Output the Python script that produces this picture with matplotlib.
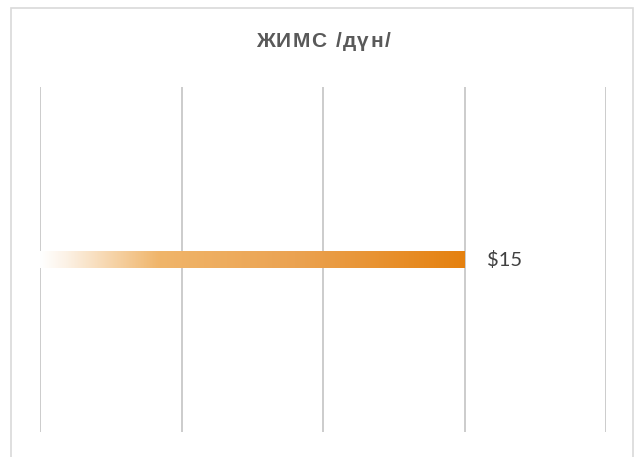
import numpy as np
import matplotlib
matplotlib.use("Agg")
import matplotlib.pyplot as plt
from matplotlib.colors import LinearSegmentedColormap
from matplotlib.patches import Rectangle

# Data
categories = ["ЖИМС"]
values = [15]
value_labels = ["$15"]
x_ticks = [0, 5, 10, 15, 20]
title = "ЖИМС /дүн/"

W, H = 635, 457
fig = plt.figure(figsize=(W / 100, H / 100), dpi=100)
fig.patch.set_facecolor("white")

# Outer chart border
fig.add_artist(Rectangle((10.5 / W, -0.05), (632.5 - 10.5) / W, 1.05 - 7.5 / H,
                         transform=fig.transFigure, fill=False,
                         edgecolor="#D9D9D9", linewidth=1.2))

ax = fig.add_axes([40 / W, 1 - 432 / H, (606 - 40) / W, (432 - 87) / H])
for s in ax.spines.values():
    s.set_visible(False)
ax.set_xticks(x_ticks)
ax.set_yticks([])
ax.tick_params(axis="x", length=0, labelbottom=False)
ax.grid(axis="x", color="#C8C8C8", linewidth=1.3)
ax.set_axisbelow(True)

# Gradient fill: pale cream on the left to deep orange on the right
grad = LinearSegmentedColormap.from_list(
    "fade",
    [(0.0, "#FFFFFF"), (0.06, "#FCF2E6"), (0.28, "#F0B56A"),
     (0.6, "#EBA352"), (1.0, "#E5810F")])

bar_h = 0.05
ypos = np.arange(len(categories))
bars = ax.barh(ypos, values, height=bar_h, color="none", edgecolor="none", zorder=3)
for bar, v, lab in zip(bars, values, value_labels):
    g = np.linspace(0, 1, 512).reshape(1, -1)
    y0 = bar.get_y()
    im = ax.imshow(g, cmap=grad, aspect="auto", interpolation="bicubic",
                   extent=[0, v, y0, y0 + bar.get_height()], zorder=3)
    im.set_clip_path(bar)
    ax.annotate(lab, (v, y0 + bar.get_height() / 2), xytext=(22, -1),
                textcoords="offset pixels", va="center", ha="left",
                fontsize=14.5, color="#404040", family=["Lato", "DejaVu Sans"])
ax.set_xlim(x_ticks[0], x_ticks[-1])
ax.set_ylim(-0.5, 0.5)

# Title with extra letter spacing, laid out character by character
renderer = fig.canvas.get_renderer()
title_size = 15
title_kw = dict(fontsize=title_size, fontweight="bold", color="#595959",
                family=["Liberation Sans", "DejaVu Sans"], va="baseline", ha="left")
spacing = 1.5
widths = []
for ch in title:
    if ch == " ":
        widths.append(title_size * 100 / 72 * 0.278)
        continue
    t = fig.text(0, 0, ch, **title_kw)
    widths.append(t.get_window_extent(renderer).width)
    t.remove()
total = sum(widths) + spacing * (len(title) - 1)
x = 323 - total / 2
for ch, w in zip(title, widths):
    if ch != " ":
        fig.text(x / W, 1 - 47 / H, ch, **title_kw)
    x += w + spacing

fig.savefig("out.png", dpi=100)
